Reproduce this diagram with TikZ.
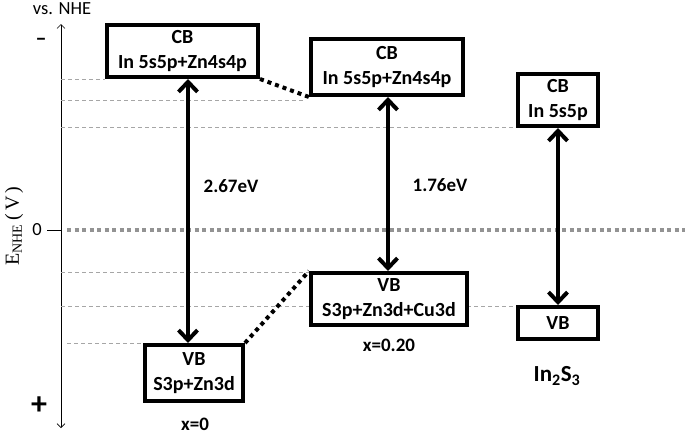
\documentclass[tikz,border=0pt]{standalone}
\usepackage{fontspec}
\setmainfont{Carlito}
\newfontfamily\seriffont{Liberation Serif}
\usetikzlibrary{arrows.meta}
\begin{document}
\begin{tikzpicture}[x=1pt,y=-1pt,
  band/.style={draw=black, line width=4pt, fill=white, align=center, inner sep=0pt,
    font=\bfseries\fontsize{20}{25}\selectfont},
  gaparrow/.style={line width=4pt,
    {Straight Barb[length=10pt,width=19pt]}-{Straight Barb[length=10pt,width=19pt]}},
  link/.style={line width=4pt, dash pattern=on 4pt off 4pt},
  level/.style={gray!70, line width=0.7pt, dash pattern=on 4pt off 3pt},
  zero/.style={gray!85, line width=4.5pt, dash pattern=on 4pt off 3.5pt},
  axis/.style={line width=0.7pt,
    {Straight Barb[length=4pt,width=8pt]}-{Straight Barb[length=4pt,width=8pt]}},
  lbl/.style={font=\bfseries\fontsize{19}{22}\selectfont, inner sep=0pt},
  plain/.style={font=\fontsize{18.5}{21}\selectfont, inner sep=0pt}
]
\useasboundingbox (0,0) rectangle (685,434);

% axis
\coordinate (axtop) at (61,24);
\coordinate (axbot) at (61,428);
\draw[axis] (axtop) -- (axbot);
\node[plain] (vs) at (62,9) {vs. NHE};
\node[font=\bfseries\fontsize{22}{22}\selectfont, inner sep=0pt] (minus) at (41,42) {–};
\node[font=\bfseries\fontsize{32}{32}\selectfont, inner sep=0pt] (plus) at (39,406) {+};
\node[plain] (zerolbl) at (37,230) {0};
\coordinate (tick) at (47,230);
\coordinate (z0) at (61,230);
\coordinate (z1) at (67,230);
\coordinate (z2) at (685,230);
\draw[line width=0.7pt] (tick) -- (z0);
\node[rotate=90, inner sep=0pt, font=\seriffont\fontsize{20}{20}\selectfont] (elbl) at (14,226)
  {E\textsubscript{NHE}\,(\,V\,)};

% level guide lines
\coordinate (l1a) at (61,79);  \coordinate (l1b) at (105,79);
\coordinate (l2a) at (61,100); \coordinate (l2b) at (303,100);
\coordinate (l3a) at (61,127); \coordinate (l3b) at (513,127);
\coordinate (l4a) at (61,272); \coordinate (l4b) at (309,272);
\coordinate (l5a) at (61,306); \coordinate (l5b) at (516,306);
\coordinate (l6a) at (67,343); \coordinate (l6b) at (143,343);
\draw[level] (l1a) -- (l1b);
\draw[level] (l2a) -- (l2b);
\draw[level] (l3a) -- (l3b);
\draw[level] (l4a) -- (l4b);
\draw[level] (l5a) -- (l5b);
\draw[level] (l6a) -- (l6b);
\draw[zero] (z1) -- (z2);

% bands
\node[band, minimum width=151pt, minimum height=52pt] (cb1) at (182.5,51) {CB\\In 5s5p+Zn4s4p};
\node[band, minimum width=98pt, minimum height=56pt] (vb1) at (194,373) {VB\\S3p+Zn3d};
\node[band, minimum width=152pt, minimum height=56pt] (cb2) at (387,67) {CB\\In 5s5p+Zn4s4p};
\node[band, minimum width=156pt, minimum height=52pt] (vb2) at (389,299) {VB\\S3p+Zn3d+Cu3d};
\node[band, minimum width=80pt, minimum height=52pt] (cb3) at (558,100) {CB\\In 5s5p};
\node[band, minimum width=80pt, minimum height=32pt] (vb3) at (558,323) {VB};

% dotted links
\draw[link] (cb1.south east) -- (cb2.south west);
\draw[link] (vb1.north east) -- (vb2.north west);

% gap arrows
\coordinate (g1) at (188,0);
\coordinate (g2) at (388,0);
\coordinate (g3) at (558,0);
\draw[gaparrow] (g1 |- cb1.south) -- (g1 |- vb1.north);
\draw[gaparrow] (g2 |- cb2.south) -- (g2 |- vb2.north);
\draw[gaparrow] (g3 |- cb3.south) -- (g3 |- vb3.north);

% labels
\node[lbl] (e1) at (231,186) {2.67eV};
\node[lbl] (e2) at (440,185) {1.76eV};
\node[lbl] (x1) at (195,424) {x=0};
\node[lbl] (x2) at (389,345) {x=0.20};
\node[font=\bfseries\fontsize{23}{23}\selectfont, inner sep=0pt] (ins) at (557,376) {In\textsubscript{2}S\textsubscript{3}};
\end{tikzpicture}
\end{document}
